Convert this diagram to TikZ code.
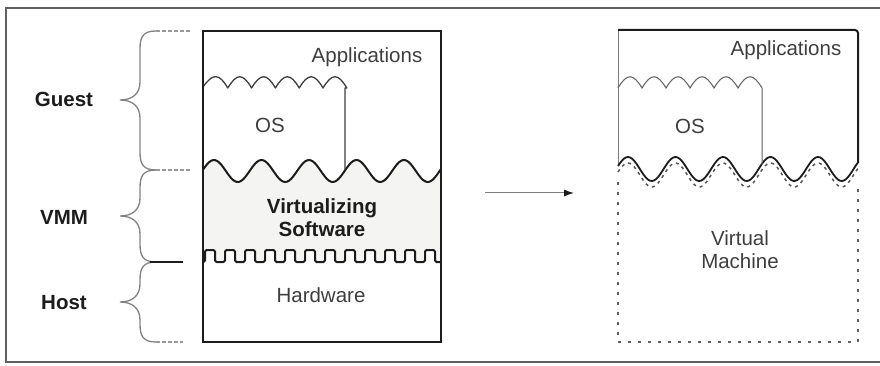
\documentclass[tikz,border=0pt]{standalone}
\usepackage{fontspec}
\setmainfont{Liberation Sans}
\usepackage{tikz}
\usetikzlibrary{arrows.meta}
\definecolor{inkblack}{RGB}{28,28,28}
\definecolor{scangray}{RGB}{125,125,125}
\definecolor{stipple}{RGB}{244,244,242}
\tikzset{
  layertext/.style={font=\fontsize{20.5}{23}\selectfont,text=inkblack!85,
    align=center,inner sep=0pt},
  sidelab/.style={font=\fontsize{20.5}{23}\selectfont\bfseries,text=inkblack,
    align=center,inner sep=0pt},
  frameline/.style={line width=2pt,draw=inkblack!70},
  boxline/.style={line width=2pt,draw=inkblack},
  waveline/.style={line width=2pt,draw=inkblack,line join=round},
  osline/.style={line width=1.3pt,draw=inkblack!85,line join=round},
  thinline/.style={line width=1pt,draw=scangray},
  dotline/.style={line width=2.4pt,draw=inkblack!70,dash pattern=on 3pt off 7pt},
  dashwave/.style={line width=1.5pt,draw=inkblack!75,dash pattern=on 3pt off 4pt},
  bracestyle/.style={line width=1.3pt,draw=inkblack!55},
  extline/.style={line width=1.2pt,draw=inkblack!45,dash pattern=on 4pt off 2pt},
  flow/.style={-{Latex[length=10pt,width=7pt,color=inkblack]},line width=1pt,draw=scangray}
}
% curly brace on the left side: top y, tip y, bottom y
\newcommand{\sidebrace}[3]{%
  \draw[bracestyle] (156,#1) .. controls (143,#1) and (140,{#1+6}) .. (140,{#1+18})
    -- (140,{#2-18}) .. controls (140,{#2-6}) and (132,#2) .. (120,#2)
    .. controls (132,#2) and (140,{#2+6}) .. (140,{#2+18})
    -- (140,{#3-18}) .. controls (140,{#3-6}) and (143,#3) .. (156,#3);}
% 360/47.5 = 7.579 degrees per pixel of the waves

\begin{document}
\begin{tikzpicture}[x=1pt,y=-1pt]
  \useasboundingbox (0,0) rectangle (880,366);
  \draw[frameline] (884,8) -- (6,8) -- (6,362) -- (884,362);

  % left: real machine
  \fill[stipple] plot[domain=203:441,samples=120] (\x,{171-11*sin((\x-202.1)*7.579)})
    -- (441,262) -- (203,262) -- cycle;
  \draw[waveline,fill=white,rounded corners=1.5pt] (203,262)
    foreach \k in {0,...,11} { -- ({205+20*\k},262) -- ({205+20*\k},250)
      -- ({215+20*\k},250) -- ({215+20*\k},262) } -- (441,262);
  \draw[waveline] plot[domain=203:441,samples=120,smooth]
    (\x,{171-11*sin((\x-202.1)*7.579)});
  \draw[osline] (203,87)
    foreach \k in {0,...,5} { .. controls ({204+23.8*\k+9},73) and ({204+23.8*\k+15},73)
      .. ({204+23.8*(\k+1)},88) } -- (345,88) -- (345,170);
  \draw[boxline] (203,31) rectangle (441,342);

  \node[layertext] (app) at (367,57) {Applications};
  \node[layertext] (os) at (270,125) {OS};
  \node[sidelab] (vsw) at (322,218) {Virtualizing\\Software};
  \node[layertext] (hw) at (321,295) {Hardware};

  % braces and their labels
  \sidebrace{31}{100}{170}
  \sidebrace{170}{216}{262}
  \sidebrace{262}{302}{342}
  \draw[extline] (156,31) -- (190,31);
  \draw[extline] (156,170) -- (190,170);
  \draw[boxline] (150,262) -- (183,262);
  \draw[extline] (156,342) -- (183,342);
  \node[sidelab] (guest) at (64,99) {Guest};
  \node[sidelab] (vmm) at (64,217) {VMM};
  \node[sidelab] (host) at (64,303) {Host};

  % arrow
  \coordinate (arrtail) at (485,193);
  \coordinate (arrhead) at (574,193);
  \draw[flow] (arrtail) -- (arrhead);

  % right: virtual machine
  \draw[thinline] (618,166) -- (618,30);
  \draw[boxline,rounded corners=3pt] (618,30) -- (858,30) -- (858,163);
  \draw[dotline] (618,182) -- (618,342) -- (858,342) -- (858,184);
  \draw[dashwave] plot[domain=618:858,samples=120,smooth]
    (\x,{175-12*sin((\x-616.1)*7.579)});
  \draw[waveline,line width=1.8pt] plot[domain=618:858,samples=120,smooth]
    (\x,{169-12*sin((\x-616.1)*7.579)});
  \draw[thinline,draw=inkblack!70] (618,88)
    foreach \k in {0,...,5} { .. controls ({618+24*\k+9},73) and ({618+24*\k+15},73)
      .. ({618+24*(\k+1)},88) } -- (762,88) -- (762,165);

  \node[layertext] (vmapp) at (786,50) {Applications};
  \node[layertext] (vmos) at (690,126) {OS};
  \node[layertext] (vm) at (740,250) {Virtual\\Machine};
\end{tikzpicture}
\end{document}
